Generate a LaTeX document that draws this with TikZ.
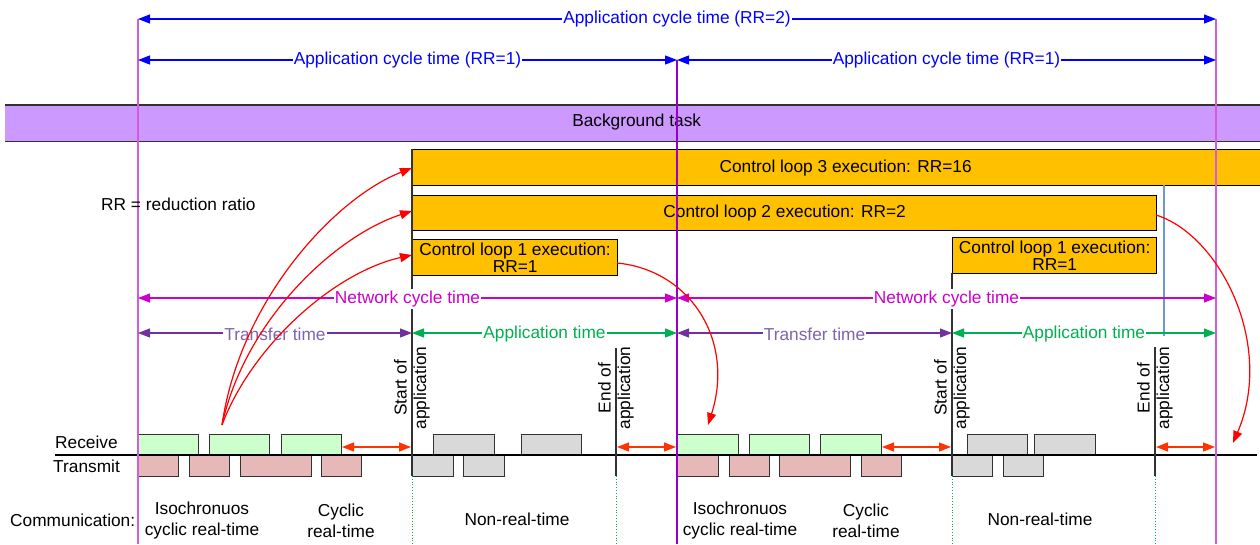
\documentclass[tikz,border=0pt]{standalone}
\usepackage{fontspec}
\setmainfont{Liberation Sans}
\usetikzlibrary{arrows.meta}
\definecolor{magL}{RGB}{214,90,222}
\definecolor{magM}{RGB}{150,0,200}
\definecolor{magT}{RGB}{204,0,204}
\definecolor{blueA}{RGB}{0,0,255}
\definecolor{purA}{RGB}{112,48,160}
\definecolor{purT}{RGB}{128,100,170}
\definecolor{grnA}{RGB}{0,176,80}
\definecolor{redA}{RGB}{255,0,0}
\definecolor{redB}{RGB}{255,51,0}
\definecolor{bandC}{RGB}{204,153,255}
\definecolor{oraC}{RGB}{255,192,0}
\definecolor{rxC}{RGB}{204,255,204}
\definecolor{txC}{RGB}{230,184,183}
\definecolor{grC}{RGB}{217,217,217}
\definecolor{linC}{RGB}{50,50,50}
\definecolor{bluL}{RGB}{110,150,210}
\begin{document}
\begin{tikzpicture}[x=1pt,y=-1pt,
  every node/.style={font=\fontsize{17.3}{20}\selectfont, inner sep=0pt},
  arrtip/.style={-{Triangle[length=12pt,width=9pt]}},
  dblarr/.style={{Triangle[length=12pt,width=9pt]}-{Triangle[length=12pt,width=9pt]}},
  lbl/.style={fill=white, inner xsep=1pt, inner ysep=2pt},
  cbox/.style={draw=black, line width=1.3pt, fill=oraC, anchor=north west, minimum height=36pt, align=center},
  rxbox/.style={draw=linC, line width=1.3pt, fill=rxC, anchor=south west, minimum height=20pt},
  txbox/.style={draw=linC, line width=1.3pt, fill=txC, anchor=north west, minimum height=21pt},
  grrx/.style={draw=linC, line width=1.3pt, fill=grC, anchor=south west, minimum height=20pt},
  grtx/.style={draw=linC, line width=1.3pt, fill=grC, anchor=north west, minimum height=21pt},
  blk/.style={draw=linC, line width=1.5pt},
  dots/.style={draw=grnA, line width=0.8pt, dotted},
  rot/.style={rotate=90, align=center, font=\fontsize{17.3}{19.5}\selectfont},
]
\path[use as bounding box] (0,0) rectangle (1260,544);
\clip (0,0) rectangle (1260,544);

% background band
\node[fill=bandC, anchor=north west, minimum width=1260pt, minimum height=36pt] (bg) at (5,105) {};
\node at (bg.center) [xshift=1.5pt, yshift=1pt] (bgtxt) {Background task};
\draw[linC, line width=1.3pt] (bg.north west) -- (bg.north east);
\draw[linC, line width=1.3pt] (bg.south west) -- (bg.south east);

% control loop boxes
\node[cbox, minimum width=866pt] (cl3) at (412,149) {Control loop 3 execution: RR=16};
\node[cbox, minimum width=744pt, minimum height=35pt] (cl2) at (412,195) {Control loop 2 execution: RR=2};
\node[cbox, minimum width=205pt, font=\fontsize{17.3}{17}\selectfont] (cl1a) at (412,239) {Control loop 1 execution:\\RR=1};
\node[cbox, minimum width=204pt, font=\fontsize{17.3}{17}\selectfont] (cl1b) at (952,237) {Control loop 1 execution:\\RR=1};

% receive / transmit boxes
\foreach \x/\w [count=\i] in {138/60,209/60,281/60,677/61,749/60,820/61}
  \node[rxbox, minimum width=\w pt] (rx\i) at (\x,455) {};
\foreach \x/\w [count=\i] in {138/40,189/40,240/71,321/40,677/41,729/40,779/71,861/40}
  \node[txbox, minimum width=\w pt] (tx\i) at (\x,455) {};
\foreach \x/\w [count=\i] in {433/61,521/60,967/60,1034/61}
  \node[grrx, minimum width=\w pt] (gr\i) at (\x,455) {};
\foreach \x/\w [count=\i] in {412/41,463/41,952/40,1003/40}
  \node[grtx, minimum width=\w pt] (gt\i) at (\x,455) {};

% coordinates
\coordinate (base0) at (55,455);
\coordinate (base1) at (1257,455);
\coordinate (sA) at (412,149);   \coordinate (sAb) at (412,476); \coordinate (sAd) at (412,544);
\coordinate (eA) at (616,348);   \coordinate (eAb) at (616,476); \coordinate (eAd) at (616,544);
\coordinate (sB) at (952,273);   \coordinate (sBb) at (952,476); \coordinate (sBd) at (952,544);
\coordinate (eB) at (1155,347);  \coordinate (eBb) at (1155,476); \coordinate (eBd) at (1155,544);
\coordinate (mL0) at (138,19);  \coordinate (mL1) at (138,544);
\coordinate (mM0) at (677,60);  \coordinate (mM1) at (677,544);
\coordinate (mR0) at (1216,19); \coordinate (mR1) at (1216,544);
\coordinate (bl0) at (1164,185); \coordinate (bl1) at (1164,336);

% baseline
\draw[black, line width=1.3pt] (base0) -- (base1);

% black verticals and dotted continuations
\draw[blk] (sA) -- (sAb);
\draw[blk] (eA) -- (eAb);
\draw[blk] (sB) -- (sBb);
\draw[blk] (eB) -- (eBb);
\draw[dots] (sAb) -- (sAd);
\draw[dots] (eAb) -- (eAd);
\draw[dots] (sBb) -- (sBd);
\draw[dots] (eBb) -- (eBd);

% blue vertical
\draw[bluL, line width=1.2pt] (bl0) -- (bl1);

% magenta verticals
\draw[magL, line width=2pt] (mL0) -- (mL1);
\draw[magM, line width=1.1pt] (mM0) -- (mM1);
\draw[magL, line width=2pt] (mR0) -- (mR1);

% application cycle arrows
\coordinate (a0) at (138,19); \coordinate (a1) at (1216,19);
\draw[blueA, line width=1.3pt, dblarr] (a0) -- node[lbl, text=blueA] (t0) {Application cycle time (RR=2)} (a1);
\coordinate (b0) at (138,60); \coordinate (b1) at (677,60); \coordinate (b2) at (1216,60);
\draw[blueA, line width=1.3pt, dblarr] (b0) -- node[lbl, text=blueA] (t1) {Application cycle time (RR=1)} (b1);
\draw[blueA, line width=1.3pt, dblarr] (b1) -- node[lbl, text=blueA] (t2) {Application cycle time (RR=1)} (b2);

% network cycle arrows
\coordinate (n0) at (138,298); \coordinate (n1) at (677,298); \coordinate (n2) at (1216,298);
\draw[magT, line width=1.2pt, dblarr] (n0) -- node[lbl, text=magT, yshift=-1pt] (t3) {Network cycle time} (n1);
\draw[magT, line width=1.2pt, dblarr] (n1) -- node[lbl, text=magT, yshift=-1pt] (t4) {Network cycle time} (n2);

% transfer / application time
\coordinate (p0) at (138,333); \coordinate (p1) at (412,333); \coordinate (p2) at (677,333);
\coordinate (p3) at (952,333); \coordinate (p4) at (1216,333);
\draw[purA, line width=1.2pt, dblarr] (p0) -- node[lbl, text=purT, yshift=-1pt] (t5) {Transfer time} (p1);
\draw[grnA, line width=1.2pt, dblarr] (p1) -- node[lbl, text=grnA, yshift=-1pt] (t6) {Application time} (p2);
\draw[purA, line width=1.2pt, dblarr] (p2) -- node[lbl, text=purT, yshift=-1pt] (t7) {Transfer time} (p3);
\draw[grnA, line width=1.2pt, dblarr] (p3) -- node[lbl, text=grnA, yshift=-1pt] (t8) {Application time} (p4);

% red idle arrows
\coordinate (r0) at (342,447); \coordinate (r1) at (411,447);
\coordinate (r2) at (617,447); \coordinate (r3) at (676,447);
\coordinate (r4) at (882,447); \coordinate (r5) at (951,447);
\coordinate (r6) at (1156,447); \coordinate (r7) at (1215,447);
\draw[redB, line width=1.2pt, dblarr] (r0) -- (r1);
\draw[redB, line width=1.2pt, dblarr] (r2) -- (r3);
\draw[redB, line width=1.2pt, dblarr] (r4) -- (r5);
\draw[redB, line width=1.2pt, dblarr] (r6) -- (r7);

% rotated labels
\node[rot] (st1) at (412,388) {Start of\\application};
\node[rot] (en1) at (616,388) {End of\\application};
\node[rot] (st2) at (952,388) {Start of\\application};
\node[rot] (en2) at (1155,388) {End of\\application};

% texts
\node[anchor=west] (rr) at (101,204) {RR = reduction ratio};
\node[anchor=west] (recv) at (55,442) {Receive};
\node[anchor=west] (trans) at (53,466) {Transmit};
\node[anchor=west] (comm) at (10,520) {Communication:};
\node[align=center, font=\fontsize{17.3}{21}\selectfont] (iso1) at (202,521) {Isochronuos\\cyclic real-time};
\node[align=center, font=\fontsize{17.3}{21}\selectfont] (cyc1) at (341,521) {Cyclic\\real-time};
\node (nrt1) at (517,519) {Non-real-time};
\node[align=center, font=\fontsize{17.3}{21}\selectfont] (iso2) at (740,521) {Isochronuos\\cyclic real-time};
\node[align=center, font=\fontsize{17.3}{21}\selectfont] (cyc2) at (866,521) {Cyclic\\real-time};
\node (nrt2) at (1040,519) {Non-real-time};

% red curved arrows
\coordinate (src) at (222,425);
\coordinate (d3) at (412,168);
\coordinate (d2) at (412,211);
\coordinate (d1) at (412,255);
\draw[redA, line width=1.2pt, arrtip] (src) .. controls (240,300) and (335,198) .. (d3);
\draw[redA, line width=1.2pt, arrtip] (src) .. controls (245,320) and (335,236) .. (d2);
\draw[redA, line width=1.2pt, arrtip] (src) .. controls (252,345) and (335,272) .. (d1);
\coordinate (c1s) at (617,263); \coordinate (c1e) at (708,425);
\draw[redA, line width=1.2pt, arrtip] (c1s) .. controls (690,270) and (735,340) .. (c1e);
\coordinate (c2s) at (1156,215); \coordinate (c2e) at (1233,443);
\draw[redA, line width=1.2pt, arrtip] (c2s) .. controls (1220,235) and (1275,345) .. (c2e);
\end{tikzpicture}
\end{document}
